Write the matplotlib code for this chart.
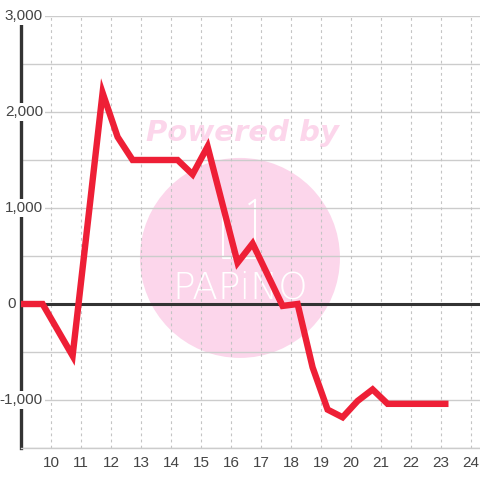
import numpy as np
import matplotlib.pyplot as plt
from matplotlib.patches import Ellipse

# hours of the day and values
hours = [9.0, 9.72, 10.72, 11.72, 12.22, 12.72, 14.22, 14.72, 15.22, 16.22,
         16.72, 17.72, 18.22, 18.72, 19.22, 19.72, 20.22, 20.72, 21.22, 23.25]
values = [0, 0, -540, 2200, 1740, 1500, 1500, 1350, 1640, 430,
          630, -20, 0, -660, -1100, -1180, -1010, -890, -1040, -1040]

x_ticks = list(range(10, 25))
y_labels = [3000, 2000, 1000, -1000]

plt.rcParams['font.family'] = ['Liberation Sans', 'DejaVu Sans']

fig = plt.figure(figsize=(4.8, 4.8), dpi=100)
ax = fig.add_axes([21 / 480, 32 / 480, 459 / 480, 432 / 480])
ax.set_xlim(9.0, 24.3)
ax.set_ylim(-1500, 3000)

# grid
for yv in np.arange(-1500, 3001, 500):
    if yv != 0:
        ax.axhline(yv, color='#cccccc', lw=1, zorder=1)
for xv in x_ticks:
    ax.axvline(xv, color='#c4c4c4', lw=0.8, ls=(0, (2.5, 3)), zorder=1)

# watermark
circ = Ellipse((0.477, 0.440), 200 / 459, 200 / 432, transform=ax.transAxes,
               facecolor='#fcd6eb', edgecolor='none', zorder=0)
ax.add_patch(circ)
ax.text(0.482, 0.729, 'Powered by', transform=ax.transAxes, ha='center', va='center',
        fontsize=21, fontweight='bold', style='italic', color='#fcd6eb',
        family='DejaVu Sans', zorder=0)
ax.text(0.477, 0.37, 'PAPiNO', transform=ax.transAxes, ha='center', va='center',
        fontsize=27, color='white', family='DejaVu Sans', fontweight='light', zorder=0.5)
# cup outline
cx0, cx1 = (223 - 21) / 459, (255 - 21) / 459
cy0, cy1 = (448 - 258) / 432, (448 - 207) / 432
ax.plot([cx0, cx0, cx1, cx1], [cy1, cy0, cy0, (448 - 200) / 432], transform=ax.transAxes,
        color='white', lw=1.5, zorder=0.5, solid_capstyle='round')
ax.plot([cx1 - 0.012, cx1], [(448 - 204) / 432, (448 - 200) / 432], transform=ax.transAxes,
        color='white', lw=1.5, zorder=0.5)

# zero line
ax.axhline(0, color='#333333', lw=2.2, zorder=2)

# data line
ax.plot(hours, values, color='#ee1f36', lw=4.6, solid_joinstyle='miter',
        solid_capstyle='butt', zorder=3)

# spines
for s in ['top', 'right']:
    ax.spines[s].set_visible(False)
ax.spines['left'].set_color('#333333')
ax.spines['left'].set_linewidth(2.4)
ax.spines['bottom'].set_color('#cccccc')
ax.spines['bottom'].set_linewidth(1)

ax.set_xticks(x_ticks)
ax.tick_params(axis='x', length=0, labelsize=11, labelcolor='#444444', pad=6)
ax.set_yticks([])

for yv in y_labels:
    ax.text(22 / 459, yv, '{:,}'.format(yv), transform=ax.get_yaxis_transform(),
            ha='right', va='center', fontsize=11, color='#444444', zorder=4,
            bbox=dict(facecolor='white', edgecolor='none', pad=1.5), clip_on=False)
# zero label sits left of the axis
ax.text(-9 / 459, 0, '0', transform=ax.get_yaxis_transform(), ha='center', va='center',
        fontsize=11, color='#444444', zorder=4, clip_on=False)

fig.savefig('out.png', dpi=100)
